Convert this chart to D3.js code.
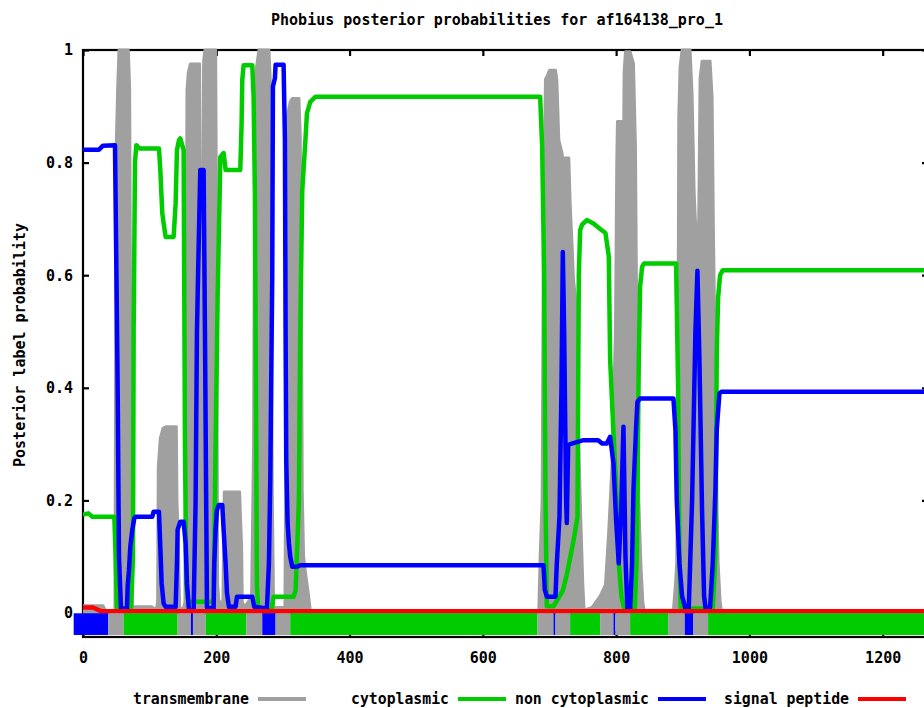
<!DOCTYPE html>
<html>
<head>
<meta charset="utf-8">
<script src="https://cdn.jsdelivr.net/npm/d3@7"></script>
<style>
  html, body { margin: 0; padding: 0; background: #fff; overflow: hidden; }
  svg text { font-family: "DejaVu Sans Mono", monospace; font-weight: bold; font-size: 15px; fill: #000; }
</style>
</head>
<body>
<svg id="chart" width="924" height="708"></svg>
<script>
// Phobius posterior probabilities.
const TITLE = 'Phobius posterior probabilities for af164138_pro_1';
const Y_LABEL = 'Posterior label probability';
const SEQ_LEN = 1268;

const xTicks = [0, 200, 400, 600, 800, 1000, 1200];
const yTicks = [0, 0.2, 0.4, 0.6, 0.8, 1];

const seriesNames = ['transmembrane', 'cytoplasmic', 'non cytoplasmic', 'signal peptide'];
const seriesColors = ['#a0a0a0', '#00cc00', '#0000ff', '#ff0000'];

// transmembrane (gray)
const tmPos = [0, 30, 34, 47, 48, 49, 50, 52, 54, 68, 70, 71, 72, 73, 74, 78, 103, 110, 112, 113, 116, 120, 125, 140, 141, 143, 145,
  150, 153, 155, 156, 158, 161, 175, 176, 179, 181, 183, 199, 200, 201, 202, 204, 210, 211, 212, 235, 236, 238, 239, 242,
  248, 253, 256, 258, 261, 264, 279, 281, 284, 286, 303, 304, 306, 311, 314, 324, 326, 328, 329, 331, 334, 338, 341, 345,
  680, 684, 686, 689, 691, 694, 697, 700, 709, 711, 714, 719, 721, 723, 729, 731, 734, 736, 739, 741, 744, 747, 750, 752,
  764, 776, 784, 789, 794, 799, 801, 802, 808, 809, 811, 812, 814, 821, 826, 829, 831, 834, 837, 840, 842,
  886, 889, 891, 893, 894, 896, 899, 911, 914, 917, 921, 924, 926, 929, 941, 944, 946, 949, 951, 953, 956, 958, 1268];
const tmVal = [0.013, 0.013, 0.003, 0.003, 0.01, 0.5, 0.835, 0.93, 1.0, 1.0, 0.93, 0.64, 0.4, 0.1, 0.01, 0.011, 0.011, 0.005, 0.02, 0.26, 0.31, 0.328, 0.331, 0.331, 0.2, 0.12, 0.01,
  0.005, 0.02, 0.548, 0.928, 0.96, 0.975, 0.975, 0.6, 0.6, 0.98, 1.0, 1.0, 0.78, 0.4, 0.05, 0.02, 0.02, 0.124, 0.215, 0.215, 0.18, 0.12, 0.02, 0.01,
  0.02, 0.03, 0.3, 0.948, 0.975, 1.0, 1.0, 0.948, 0.215, 0.01, 0.01, 0.215, 0.88, 0.908, 0.914, 0.914, 0.85, 0.5, 0.215, 0.1, 0.07, 0.035, 0.005, 0,
  0, 0.005, 0.1, 0.2, 0.7, 0.948, 0.955, 0.964, 0.964, 0.947, 0.84, 0.816, 0.77, 0.808, 0.808, 0.728, 0.65, 0.592, 0.56, 0.503, 0.3, 0.165, 0.05, 0.005,
  0.01, 0.03, 0.05, 0.147, 0.266, 0.5, 0.8, 0.873, 0.873, 0.73, 0.8, 0.96, 0.997, 0.997, 0.976, 0.829, 0.5, 0.2, 0.09, 0.02, 0.005,
  0.005, 0.05, 0.09, 0.5, 0.88, 0.97, 1.0, 1.0, 0.92, 0.75, 0.64, 0.7, 0.95, 0.98, 0.98, 0.915, 0.68, 0.4, 0.215, 0.09, 0.02, 0.003, 0.003];

// cytoplasmic (green)
const cytoPos = [0, 8, 14, 47, 49, 51, 72, 75, 76, 78, 80, 85, 114, 116, 119, 121, 124, 136, 139, 141, 144, 146, 151, 153, 155, 158, 164,
  196, 199, 202, 205, 206, 211, 214, 236, 238, 239, 241, 254, 256, 258, 259, 261, 263, 283, 286, 316, 319, 324, 326, 329, 334, 336, 341, 349,
  686, 689, 692, 694, 696, 706, 720, 726, 736, 742, 744, 746, 749, 756, 766, 776, 784, 789, 791, 796, 801, 804, 808, 812,
  828, 831, 834, 836, 839, 842, 890, 893, 895, 897, 945, 949, 951, 953, 956, 960, 1268];
const cytoVal = [0.175, 0.177, 0.171, 0.171, 0.1, 0.01, 0.005, 0.1, 0.5, 0.8, 0.831, 0.825, 0.825, 0.787, 0.71, 0.692, 0.668, 0.668, 0.728, 0.822, 0.84, 0.843, 0.822, 0.3, 0.05, 0.02, 0.02,
  0.02, 0.3, 0.56, 0.74, 0.81, 0.817, 0.787, 0.787, 0.87, 0.947, 0.973, 0.973, 0.917, 0.74, 0.5, 0.05, 0.005, 0.005, 0.029, 0.029, 0.04, 0.2, 0.5, 0.75, 0.845, 0.887, 0.908, 0.917,
  0.917, 0.828, 0.6, 0.2, 0.012, 0.012, 0.04, 0.068, 0.128, 0.17, 0.6, 0.68, 0.69, 0.698, 0.692, 0.682, 0.675, 0.633, 0.45, 0.32, 0.2, 0.088, 0.03, 0.008,
  0.008, 0.1, 0.45, 0.58, 0.615, 0.621, 0.621, 0.4, 0.1, 0.008, 0.008, 0.1, 0.461, 0.56, 0.6, 0.609, 0.609];

// non cytoplasmic (blue)
const noncytoPos = [0, 24, 30, 48, 50, 52, 54, 57, 66, 67, 69, 71, 74, 77, 79, 104, 106, 114, 116, 118, 121, 124, 139, 141, 142, 146, 151, 154, 156, 159,
  166, 169, 171, 173, 176, 181, 183, 186, 196, 197, 199, 201, 204, 209, 211, 214, 216, 219, 229, 231, 254, 257, 276, 279, 281, 284, 285, 288, 289, 301,
  303, 304, 305, 307, 309, 311, 314, 321, 326, 691, 693, 696, 709, 711, 715, 718, 720, 722, 725, 726, 728, 731, 751, 773, 779, 786, 791, 796, 800, 804,
  808, 811, 814, 817, 821, 824, 826, 830, 832, 836, 886, 889, 891, 895, 899, 904, 909, 914, 919, 922, 925, 929, 932, 934, 941, 945, 949, 951, 955, 958, 1268];
const noncytoVal = [0.823, 0.823, 0.83, 0.831, 0.62, 0.4, 0.1, 0.008, 0.008, 0.047, 0.076, 0.118, 0.148, 0.168, 0.171, 0.171, 0.18, 0.18, 0.118, 0.053, 0.017, 0.011, 0.011, 0.088, 0.148, 0.162, 0.162, 0.124, 0.053, 0.005,
  0.005, 0.2, 0.5, 0.62, 0.787, 0.787, 0.5, 0.01, 0.008, 0.088, 0.148, 0.183, 0.192, 0.192, 0.148, 0.088, 0.036, 0.011, 0.011, 0.029, 0.029, 0.011, 0.008, 0.088, 0.236, 0.6, 0.935, 0.95, 0.974, 0.974,
  0.84, 0.5, 0.27, 0.16, 0.124, 0.1, 0.082, 0.082, 0.085, 0.085, 0.041, 0.029, 0.029, 0.088, 0.171, 0.4, 0.641, 0.5, 0.2, 0.16, 0.298, 0.3, 0.307, 0.307, 0.301, 0.301, 0.313, 0.266, 0.165, 0.088,
  0.2, 0.331, 0.1, 0.005, 0.005, 0.088, 0.218, 0.33, 0.375, 0.381, 0.381, 0.325, 0.2, 0.088, 0.03, 0.008, 0.008, 0.2, 0.5, 0.608, 0.45, 0.18, 0.03, 0.01, 0.01, 0.088, 0.218, 0.325, 0.39, 0.393, 0.393];

// signal peptide (red)
const spPos = [0, 15, 20, 28, 1268];
const spVal = [0.01, 0.01, 0.007, 0.003, 0.003];

// predicted topology strip under the curves
const bandStart = [-14, 38, 61, 142, 162, 165, 184, 245, 269, 289, 311, 682, 706, 709, 731, 776, 796, 799, 821, 878, 903, 916, 938];
const bandEnd   = [38, 61, 142, 162, 165, 184, 245, 269, 289, 311, 682, 706, 709, 731, 776, 796, 799, 821, 878, 903, 916, 938, 1268];
const bandKind  = [2, 0, 1, 0, 2, 0, 1, 0, 2, 0, 1, 0, 2, 0, 1, 0, 2, 0, 1, 0, 2, 0, 1];

const W = 924, H = 708;
const margin = { left: 83, top: 50, right: -4, bottom: 71 };
const x0 = margin.left, x1 = W - margin.right;
const y0 = H - margin.bottom, y1 = margin.top;

const x = d3.scaleLinear().domain([0, SEQ_LEN]).range([x0, x1]);
const y = d3.scaleLinear().domain([-0.0426, 1]).range([y0, y1]);

const svg = d3.select('#chart');

svg.append('defs').append('clipPath').attr('id', 'plotClip')
  .append('rect').attr('x', x0).attr('y', y1 - 3).attr('width', x1 - x0).attr('height', y0 - y1 + 3);

// frame
svg.append('rect')
  .attr('x', x0).attr('y', y1).attr('width', x1 - x0).attr('height', y0 - y1)
  .attr('fill', 'none').attr('stroke', '#000').attr('stroke-width', 2.2);

function styleAxis(g) {
  g.select('.domain').remove();
  g.selectAll('.tick line').attr('stroke', '#000').attr('stroke-width', 2.2);
  g.selectAll('.tick text').attr('font-family', null).attr('font-size', null).style('fill', '#000');
}

const fmtY = (d) => (d === 0 || d === 1 ? String(d) : d3.format('.1f')(d));

svg.append('g').attr('transform', `translate(${x0},0)`)
  .call(d3.axisLeft(y).tickValues(yTicks).tickSize(-6).tickPadding(10).tickFormat(fmtY))
  .call(styleAxis);
svg.append('g').attr('transform', `translate(${x1},0)`)
  .call(d3.axisRight(y).tickValues(yTicks).tickSize(-6).tickFormat(''))
  .call(styleAxis);
svg.append('g').attr('transform', `translate(0,${y0})`)
  .call(d3.axisBottom(x).tickValues(xTicks).tickSize(-6).tickPadding(15).tickFormat(d3.format('d')))
  .call(styleAxis);
svg.append('g').attr('transform', `translate(0,${y1})`)
  .call(d3.axisTop(x).tickValues(xTicks).tickSize(-6).tickFormat(''))
  .call(styleAxis);

// curves
const plot = svg.append('g').attr('clip-path', 'url(#plotClip)');

const tmData = d3.zip(tmPos, tmVal);
plot.append('path')
  .datum(tmData)
  .attr('fill', seriesColors[0])
  .attr('stroke', seriesColors[0])
  .attr('stroke-width', 3)
  .attr('stroke-linejoin', 'round')
  .attr('d', d3.area().x((d) => x(d[0])).y0(y(0)).y1((d) => y(d[1])));

const line = d3.line().x((d) => x(d[0])).y((d) => y(d[1]));
[[cytoPos, cytoVal, 1], [noncytoPos, noncytoVal, 2], [spPos, spVal, 3]].forEach(([pos, val, i]) => {
  plot.append('path')
    .datum(d3.zip(pos, val))
    .attr('fill', 'none')
    .attr('stroke', seriesColors[i])
    .attr('stroke-width', 4.5)
    .attr('stroke-linejoin', 'round')
    .attr('d', line);
});

// topology strip
const bandColors = [seriesColors[0], seriesColors[1], seriesColors[2]];
svg.append('g').selectAll('rect')
  .data(d3.range(bandStart.length))
  .join('rect')
  .attr('x', (i) => x(bandStart[i]))
  .attr('width', (i) => x(bandEnd[i]) - x(bandStart[i]))
  .attr('y', y(-0.0005))
  .attr('height', y(-0.039) - y(-0.0005))
  .attr('fill', (i) => bandColors[bandKind[i]]);

// title and axis label
svg.append('text')
  .attr('x', 497).attr('y', 25)
  .attr('text-anchor', 'middle')
  .attr('textLength', 452).attr('lengthAdjust', 'spacingAndGlyphs')
  .text(TITLE);

svg.append('text')
  .attr('transform', 'translate(25,345) rotate(-90)')
  .attr('text-anchor', 'middle')
  .attr('textLength', 244).attr('lengthAdjust', 'spacingAndGlyphs')
  .text(Y_LABEL);

// key
const key = svg.append('g').attr('transform', 'translate(0,704)');
seriesNames.forEach((name, i) => {
  const right = 249 + 200 * i;
  key.append('text')
    .attr('x', right).attr('y', 0)
    .attr('text-anchor', 'end')
    .attr('textLength', name.length * 9 - 1).attr('lengthAdjust', 'spacingAndGlyphs')
    .text(name);
  key.append('line')
    .attr('x1', right + 9).attr('x2', right + 57)
    .attr('y1', -5).attr('y2', -5)
    .attr('stroke', seriesColors[i]).attr('stroke-width', 4);
});
</script>
</body>
</html>
